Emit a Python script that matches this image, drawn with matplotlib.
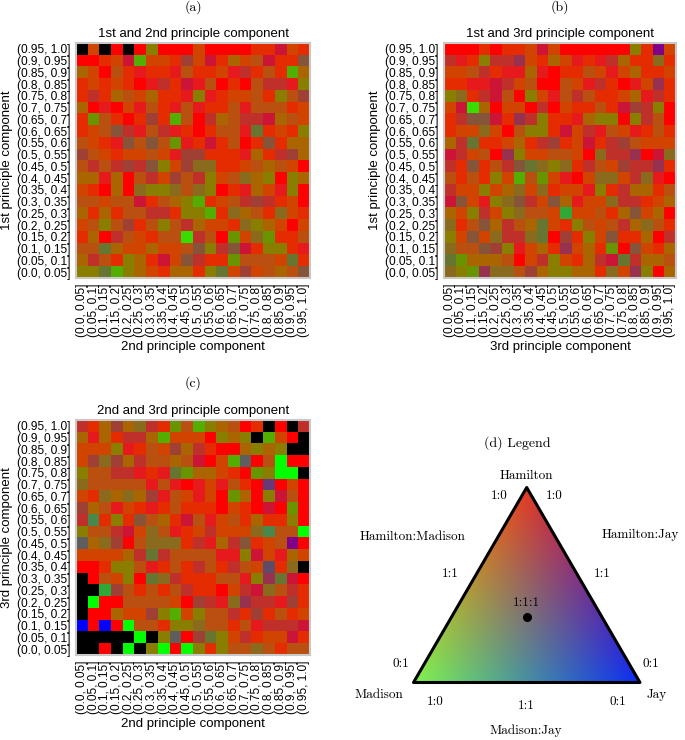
import matplotlib
matplotlib.use('Agg')
import matplotlib.pyplot as plt
import numpy as np
from matplotlib.colors import to_rgb
from matplotlib.patches import Polygon

plt.rcParams['font.family'] = ['Liberation Sans', 'DejaVu Sans']

W, H = 685, 740

bins = ['(0.0, 0.05]', '(0.05, 0.1]', '(0.1, 0.15]', '(0.15, 0.2]', '(0.2, 0.25]',
        '(0.25, 0.3]', '(0.3, 0.35]', '(0.35, 0.4]', '(0.4, 0.45]', '(0.45, 0.5]',
        '(0.5, 0.55]', '(0.55, 0.6]', '(0.6, 0.65]', '(0.65, 0.7]', '(0.7, 0.75]',
        '(0.75, 0.8]', '(0.8, 0.85]', '(0.85, 0.9]', '(0.9, 0.95]', '(0.95, 1.0]']

# colour code of each cell
palette = {
    'R': '#ff0000', 'r': '#e42c00', 'e': '#e61a1c', 'o': '#d04400', 'm': '#b95010',
    'b': '#aa6400', 'k': '#8a7e00', 'l': '#689400', 'g': '#52ae00', 'G': '#00ff00',
    'h': '#38dc00', 'H': '#30a838', 'j': '#48884c', 'X': '#000000', 'B': '#0000ff',
    'c': '#cc1436', 't': '#c0302a', 'p': '#a04034', 'y': '#983050', 'w': '#865438',
    'n': '#8a6a1c', 'd': '#667630', 's': '#5e5e5e', 'P': '#800088', 'v': '#683878',
    'i': '#5c4c68',
}

rows_12 = [
    'XoXRXRkRRRoRRRRrrcor', 'RRrocgoorpocrbomcrrw', 'boRmrerremrroetrmrgb',
    'rororRetrcemRrRmttek', 'rtrbmobrrekeroomrkmp', 'bReRoemremerrmemmmro',
    'rlmrRrprgmRtbmttcbmo', 'romwtemterRrmmedrork', 'morewmwmlercrmRrwrbb',
    'pmoroomoepprrrebrtpb', 'mtmtptwkopnnrrombmoR', 'bbebRmtopmtkomnbkRkb',
    'orRbRnkknmnkRreboekR', 'mmommcrmbkgromtptroR', 'brbrmmttrkkgrnbmrnor',
    'omkmprmkmtboornkboRo', 'rbRtmormmhtmRlonlrrm', 'mmdbooboomwktwcrkkre',
    'btmrkbrcowtrrlmmmodr', 'kkdgkborbbrkdopombmw',
]

rows_13 = [
    'RRRrRrrocoRRRRRRkrPo', 'terkttyorboeretbrrnr', 'oomtreebeRrrmoeobrro',
    'rreectomRRmoetrReoyr', 'knrtcmRkoemtmrrobetr', 'ochbRooRtRorrmrcptkR',
    'rtwwcrytkrrebkkRktmR', 'roonoRmkkrcotemoermr', 'btdrrobrtprocrtpmooo',
    'ctomRykoommoRnttyRcn', 'trwrmtwdnknrtmopttyr', 'mrmrkogmloeRonnotneR',
    'tookobnonrooekrtbbrm', 'cwoeknwtowbeoonttrob', 'boktoknmmoHoomrbwobR',
    'nrmwbtmbdorkmomtbnmr', 'kowonttndRprkowrrbRt', 'nmmwpkeobryobrlRworb',
    'dlbbbmRotkorbtcdtbbm', 'nklynnmpbkkbbrnoykRb',
]

rows_23 = [
    'trbpbntrlmgkbmRrXRXt', 'bebrttbgoooRkbkXgoRX', 'oookermopbtrRRbkbkXX',
    'opnpbtmmbmcRogsRmGRR', 'kmmtteredlbborRlkGGX', 'nmmmmmemeReoemrRvRoR',
    'ornbnbpemoeoRlbRkcmR', 'pbmeorermrrrRorRcRlR', 'tjrkrwmbrcmeomrbrrkR',
    'kmmtconmerotooonjmmG', 'sbnpRmnnnrtebtwromPR', 'oooobtdtmmmmeekcoebo',
    'RRrkkmermrtmrtmoirnX', 'XRmokRdntrrrmmekydcR', 'XXHpmrmrmtrrRotcnmtr',
    'XGRRmmmmoRptenyttepr', 'XRRboopkgokmmtrprmro', 'BRBRGmmrkknmmrmetttc',
    'XXXXXGXksRpdkotroocr', 'XXRXGXkGRGkrkmmnmrmm',
]

# triangle corners colours
hamilton_col = '#e63a22'
madison_col = '#80f450'
jay_col = '#0c2cf4'


def add_panel(fig, box, rows, title, xlabel, ylabel):
    # box is left, top, right, bottom in pixels
    l, t, r, b = box
    ax = fig.add_axes([l / W, 1 - b / H, (r - l) / W, (b - t) / H])
    img = np.array([[to_rgb(palette[c]) for c in row] for row in rows])
    ax.imshow(img, aspect='auto', interpolation='nearest')
    ax.set_xticks(range(20))
    ax.set_xticklabels(bins, rotation=90, fontsize=8.6)
    ax.set_yticks(range(20))
    ax.set_yticklabels(bins[::-1], fontsize=8.6)
    ax.tick_params(length=0, pad=4)
    for s in ax.spines.values():
        s.set_color('#c8c8c8')
        s.set_linewidth(1.5)
    ax.set_title(title, fontsize=9.5, pad=4)
    ax.set_xlabel(xlabel, fontsize=9.5, labelpad=3)
    ax.set_ylabel(ylabel, fontsize=9.5, labelpad=3)
    return ax


fig = plt.figure(figsize=(W / 100, H / 100), dpi=100)
add_panel(fig, (76, 43, 310, 278), rows_12, '1st and 2nd principle component',
          '2nd principle component', '1st principle component')
add_panel(fig, (444, 43, 676, 278), rows_13, '1st and 3rd principle component',
          '3rd principle component', '1st principle component')
add_panel(fig, (76, 420, 310, 655), rows_23, '2nd and 3rd principle component',
          '2nd principle component', '3rd principle component')

# overlay in pixel coordinates for captions and the colour triangle
ov = fig.add_axes([0, 0, 1, 1])
ov.set_xlim(0, W)
ov.set_ylim(H, 0)
ov.axis('off')
ov.patch.set_alpha(0)

top = (526.7, 487.5)
left = (413.5, 682.5)
right = (640, 682.5)

xx, yy = np.meshgrid(np.linspace(left[0], right[0], 300), np.linspace(top[1], left[1], 260))
wt = (left[1] - yy) / (left[1] - top[1])
wr = (xx - left[0] - wt * (top[0] - left[0])) / (right[0] - left[0])
wl = 1 - wt - wr
grad = (wt[..., None] * np.array(to_rgb(hamilton_col))
        + wl[..., None] * np.array(to_rgb(madison_col))
        + wr[..., None] * np.array(to_rgb(jay_col)))
im = ov.imshow(np.clip(grad, 0, 1), extent=(left[0], right[0], left[1], top[1]),
               aspect='auto', interpolation='bilinear')
tri = Polygon([top, left, right], closed=True, fc='none', ec='black', lw=2.2, joinstyle='round')
ov.add_patch(tri)
im.set_clip_path(tri)
ov.set_xlim(0, W)
ov.set_ylim(H, 0)
ov.plot([top[0]], [617], 'o', color='black', ms=5.5)

serif = ['cmr10', 'DejaVu Serif']
captions = [(193, 7, '(a)'), (560, 7, '(b)'), (193, 383, '(c)'), (517, 443, '(d) Legend')]
for x, y, s in captions:
    ov.text(x, y, s, family=serif, fontsize=10, ha='center', va='center')

legend_text = [
    (526, 476, 'Hamilton'), (499, 496, '1:0'), (554, 496, '1:0'),
    (413, 537, 'Hamilton:Madison'), (640, 535, 'Hamilton:Jay'),
    (450, 574, '1:1'), (602, 574, '1:1'), (526, 603, '1:1:1'),
    (401, 664, '0:1'), (651, 664, '0:1'), (379, 695, 'Madison'),
    (657, 695, 'Jay'), (435, 702, '1:0'), (526, 706, '1:1'),
    (618, 702, '0:1'), (526, 731, 'Madison:Jay'),
]
for x, y, s in legend_text:
    ov.text(x, y, s, family=serif, fontsize=9.5, ha='center', va='center')

fig.savefig('out.png', dpi=100)
